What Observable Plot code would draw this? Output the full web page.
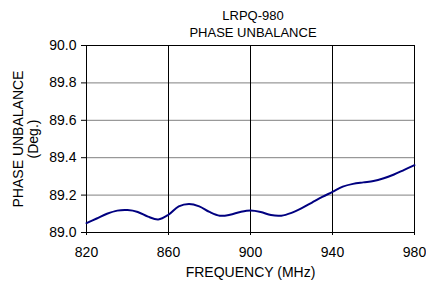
<!DOCTYPE html>
<html>
<head>
<meta charset="utf-8">
<script src="https://cdn.jsdelivr.net/npm/d3@7"></script>
<script src="https://cdn.jsdelivr.net/npm/@observablehq/plot@0.6"></script>
<style>
  html, body { margin: 0; padding: 0; background: #fff; }
  body { width: 426px; height: 282px; overflow: hidden; font-family: "Liberation Sans", Arial, sans-serif; }
  #title { position: absolute; left: 103px; width: 300px; top: 7px; text-align: center; font-size: 13px; line-height: 17.3px; color: #000; }
  #chart { position: absolute; left: 0; top: 38px; }
</style>
</head>
<body>
<div id="title">LRPQ-980<br>PHASE UNBALANCE</div>
<div id="chart"></div>
<script>
const freq = [820, 825, 830, 835, 840, 845, 850, 855, 860, 865, 870, 875, 880, 885, 890, 895, 900,
              905, 910, 915, 920, 925, 930, 935, 940, 945, 950, 955, 960, 965, 970, 975, 980];
const unbalance = [89.05, 89.075, 89.10, 89.117, 89.12, 89.11, 89.085, 89.07, 89.095, 89.14, 89.153, 89.14,
                   89.11, 89.09, 89.095, 89.11, 89.118, 89.11, 89.093, 89.09, 89.105, 89.13, 89.16, 89.19,
                   89.217, 89.245, 89.26, 89.268, 89.275, 89.29, 89.31, 89.335, 89.36];
const xTicks = [820, 860, 900, 940, 980];
const yTicks = [89.0, 89.2, 89.4, 89.6, 89.8, 90.0];
const data = freq.map((f, i) => ({f, v: unbalance[i]}));

const plot = Plot.plot({
  width: 426,
  height: 244,
  marginLeft: 86,
  marginRight: 12,
  marginTop: 7,
  marginBottom: 50,
  style: {fontFamily: "Liberation Sans, Arial, sans-serif", fontSize: "14px", color: "#000", background: "#fff"},
  x: {domain: [820, 980]},
  y: {domain: [89.0, 90.0]},
  marks: [
    Plot.gridY(yTicks, {stroke: "#808080", strokeOpacity: 1}),
    Plot.gridX(xTicks, {stroke: "#000", strokeOpacity: 1}),
    Plot.frame({stroke: "#000"}),
    Plot.axisX(xTicks, {tickSize: 3, tickPadding: 12, label: null, tickFormat: d => String(d), fontSize: 14}),
    Plot.axisY(yTicks, {tickSize: 5, tickPadding: 5, label: null, tickFormat: d => d.toFixed(1), fontSize: 14}),
    Plot.text(["FREQUENCY (MHz)"], {frameAnchor: "bottom", dy: 44, fontSize: 14, fill: "#000"}),
    Plot.text(["PHASE UNBALANCE\n(Deg.)"], {frameAnchor: "left", textAnchor: "middle", rotate: -90, dx: -61, lineHeight: 1.07, fontSize: 14, fill: "#000"}),
    Plot.line(data, {x: "f", y: "v", curve: "catmull-rom", stroke: "#000080", strokeWidth: 2})
  ]
});
document.getElementById("chart").appendChild(plot);
</script>
</body>
</html>
